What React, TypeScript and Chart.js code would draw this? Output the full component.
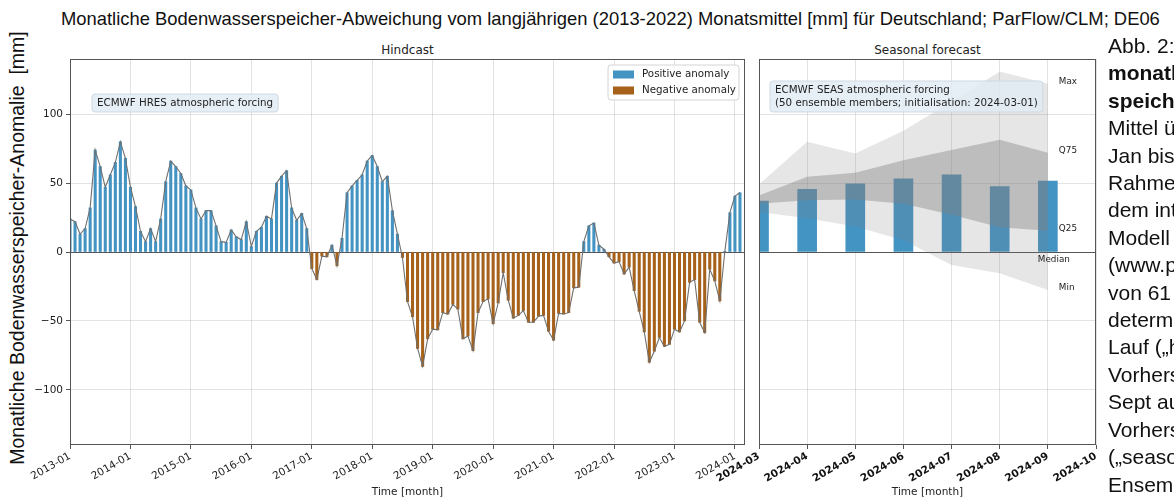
import React, { useEffect, useRef } from 'react';
import { Chart, registerables } from 'chart.js';

Chart.register(...registerables);
Chart.defaults.font.family = "'DejaVu Sans', sans-serif";

// ---- Data ----
const hindcastStart: [number, number] = [2013, 1];
const forecastStart: [number, number] = [2024, 3];

// Monthly soil water storage anomaly [mm], 2013-01 .. 2024-02
const hindcastAnomaly: number[] = [
  24, 22, 13, 17, 32, 74, 62, 47, 56, 65, 80, 68,
  47, 33, 15, 7.5, 17, 7.5, 24, 51, 66, 62, 57, 48,
  45, 32, 24, 30, 30, 19, 7.5, 7, 16, 11, 9, 22,
  4, 15, 18, 26, 24, 50, 55, 59, 32, 23, 28, 17,
  -12, -20, -3, -3.5, 5, -10, 10, 43, 48, 52, 56, 66,
  70, 62, 51, 55, 30, 13, -4, -36, -47, -70, -83, -63,
  -56, -56.5, -44, -45, -38, -41.5, -63, -61, -71.5, -44, -36, -34,
  -52, -37, -15, -35, -48, -46, -42.5, -51, -51, -46.5, -46, -57.5,
  -64, -44.5, -45, -44, -26, -25.5, 7.5, 19, 21, 5, 2, -3.5,
  -8, -7, -16, -11, -28, -43, -58, -80, -72, -62, -68.5, -67,
  -56, -58, -50, -22, -20, -51, -58.5, -12.5, -21, -35.5, 0.5, 28.5,
  40.5, 43,
];

// Seasonal forecast 2024-03 .. 2024-09
const forecastMedian: number[] = [37, 45.5, 49.5, 53, 56, 47.5, 51.5];
const forecastMax: number[] = [49, 80, 71.5, 88, 109, 131, 122];
const forecastQ75: number[] = [41, 54.5, 57.5, 66.5, 74, 81.5, 72];
const forecastQ25: number[] = [35, 37.5, 38, 35, 27, 18, 15.5];
const forecastMin: number[] = [29, 24.5, 18.5, 8.5, -9.5, -15.5, -27.5];

const yTicks: number[] = [-100, -50, 0, 50, 100];
const yLimit = 140;

const sideText: { text: string; bold?: boolean }[] = [
  { text: 'Abb. 2:' },
  { text: 'monatl', bold: true },
  { text: 'speich', bold: true },
  { text: 'Mittel ü' },
  { text: 'Jan bis' },
  { text: 'Rahme' },
  { text: 'dem int' },
  { text: 'Modell' },
  { text: '(www.p' },
  { text: 'von 61' },
  { text: 'determ' },
  { text: 'Lauf („h' },
  { text: 'Vorhers' },
  { text: 'Sept au' },
  { text: 'Vorhers' },
  { text: '(„seaso' },
  { text: 'Ensem' },
];

const POS = '#4393c3';
const NEG = '#a6611a';
const GRID = 'rgba(0,0,0,0.11)';
const AXIS = '#555';

function monthLabel(start: [number, number], i: number): string {
  const t = start[0] * 12 + (start[1] - 1) + i;
  const y = Math.floor(t / 12);
  const m = (t % 12) + 1;
  return `${y}-${String(m).padStart(2, '0')}`;
}

function fmtY(v: number): string {
  return v < 0 ? '\u2212' + Math.abs(v) : String(v);
}

function rrect(ctx: CanvasRenderingContext2D, x: number, y: number, w: number, h: number, r: number) {
  ctx.beginPath();
  ctx.moveTo(x + r, y);
  ctx.lineTo(x + w - r, y);
  ctx.quadraticCurveTo(x + w, y, x + w, y + r);
  ctx.lineTo(x + w, y + h - r);
  ctx.quadraticCurveTo(x + w, y + h, x + w - r, y + h);
  ctx.lineTo(x + r, y + h);
  ctx.quadraticCurveTo(x, y + h, x, y + h - r);
  ctx.lineTo(x, y + r);
  ctx.quadraticCurveTo(x, y, x + r, y);
  ctx.closePath();
}

const framePlugin = {
  id: 'frame',
  afterDraw(chart: any) {
    const { ctx, chartArea: a } = chart;
    ctx.save();
    ctx.strokeStyle = AXIS;
    ctx.lineWidth = 1;
    const l = Math.round(a.left) + 0.5;
    const t = Math.round(a.top) + 0.5;
    const r = Math.round(a.right) - 0.5;
    const b = Math.round(a.bottom) - 0.5;
    ctx.strokeRect(l, t, r - l, b - t);
    ctx.restore();
  },
};

function drawNoteBox(ctx: CanvasRenderingContext2D, x: number, y: number, lines: string[]) {
  ctx.save();
  ctx.font = "10.3px 'DejaVu Sans', sans-serif";
  const w = Math.max(...lines.map((s) => ctx.measureText(s).width)) + 10;
  const lh = 13;
  const h = lines.length * lh + 5;
  rrect(ctx, x, y, w, h, 3);
  ctx.fillStyle = 'rgba(226,235,244,0.85)';
  ctx.fill();
  ctx.strokeStyle = '#cfd9e3';
  ctx.lineWidth = 1;
  ctx.stroke();
  ctx.fillStyle = '#222';
  ctx.textBaseline = 'middle';
  ctx.textAlign = 'left';
  lines.forEach((s, i) => ctx.fillText(s, x + 5, y + 3 + lh / 2 + i * lh));
  ctx.restore();
}

const hindcastDecor = {
  id: 'hindcastDecor',
  afterDraw(chart: any) {
    const { ctx, chartArea: a } = chart;
    drawNoteBox(ctx, a.left + 22, a.top + 35, ['ECMWF HRES atmospheric forcing']);
    // legend
    ctx.save();
    const bx = a.right - 137, by = a.top + 6, bw = 131, bh = 35;
    rrect(ctx, bx, by, bw, bh, 3);
    ctx.fillStyle = 'rgba(255,255,255,0.85)';
    ctx.fill();
    ctx.strokeStyle = '#d4d4d4';
    ctx.stroke();
    const items = [
      { label: 'Positive anomaly', color: POS },
      { label: 'Negative anomaly', color: NEG },
    ];
    ctx.font = "10.3px 'DejaVu Sans', sans-serif";
    ctx.textBaseline = 'middle';
    items.forEach((it, i) => {
      const cy = by + 9.5 + i * 16;
      ctx.fillStyle = it.color;
      ctx.fillRect(bx + 5, cy - 4, 21, 8);
      ctx.fillStyle = '#222';
      ctx.fillText(it.label, bx + 34, cy);
    });
    ctx.restore();
  },
};

const forecastDecor = {
  id: 'forecastDecor',
  afterDraw(chart: any) {
    const { ctx, chartArea: a, scales } = chart;
    drawNoteBox(ctx, a.left + 11, a.top + 22, [
      'ECMWF SEAS atmospheric forcing',
      '(50 ensemble members; initialisation: 2024-03-01)',
    ]);
    const xs = scales.x, ys = scales.y;
    const last = forecastMax.length - 1;
    const xl = xs.getPixelForValue(last) + 11;
    ctx.save();
    ctx.font = "8.8px 'DejaVu Sans', sans-serif";
    ctx.fillStyle = '#222';
    ctx.textBaseline = 'middle';
    ctx.textAlign = 'left';
    const marks: [string, number][] = [
      ['Max', forecastMax[last]],
      ['Q75', forecastQ75[last]],
      ['Q25', forecastQ25[last]],
      ['Min', forecastMin[last]],
    ];
    marks.forEach(([s, v]) => ctx.fillText(s, xl, ys.getPixelForValue(v) - 2));
    ctx.textAlign = 'center';
    ctx.fillText('Median', xs.getPixelForValue(last) + 6, ys.getPixelForValue(0) + 8);
    ctx.restore();
  },
};

const yGridColor = (c: any) => (c.tick && c.tick.value === 0 ? AXIS : GRID);

export default function App() {
  const leftRef = useRef<HTMLCanvasElement>(null);
  const rightRef = useRef<HTMLCanvasElement>(null);

  useEffect(() => {
    const left = new Chart(leftRef.current as HTMLCanvasElement, {
      type: 'bar',
      data: {
        datasets: [
          {
            type: 'line',
            data: hindcastAnomaly.map((v, i) => ({ x: i, y: v })),
            borderColor: '#6f6f6f',
            borderWidth: 1.1,
            pointRadius: 0,
            order: 0,
          } as any,
          {
            type: 'bar',
            data: hindcastAnomaly.map((v, i) => ({ x: i, y: v })),
            backgroundColor: hindcastAnomaly.map((v) => (v >= 0 ? POS : NEG)),
            barThickness: 2.4,
            order: 1,
          } as any,
        ],
      },
      options: {
        animation: false,
        responsive: false,
        events: [],
        layout: { padding: { top: 59, right: 15, bottom: 0, left: 0 } },
        plugins: { legend: { display: false }, tooltip: { enabled: false } },
        scales: {
          x: {
            type: 'linear',
            min: 0,
            max: hindcastAnomaly.length,
            offset: false,
            grid: { color: GRID, tickColor: AXIS, tickLength: 4, offset: false },
            border: { display: false },
            ticks: {
              stepSize: 12,
              includeBounds: false,
              autoSkip: false,
              maxRotation: 30,
              minRotation: 30,
              padding: 1,
              color: '#222',
              font: { size: 10.5 },
              callback: (v: any) => monthLabel(hindcastStart, Number(v)),
            },
            title: { display: true, text: 'Time [month]', padding: 0, color: '#222', font: { size: 10.5 } },
            afterFit: (s: any) => { s.height = 54; },
          },
          y: {
            min: -yLimit,
            max: yLimit,
            grid: { color: yGridColor, tickColor: AXIS, tickLength: 4 },
            border: { display: false },
            afterBuildTicks: (s: any) => { s.ticks = yTicks.map((v) => ({ value: v })); },
            ticks: { color: '#222', padding: 3, font: { size: 10.5 }, callback: (v: any) => fmtY(Number(v)) },
            afterFit: (s: any) => { s.width = 70; },
          },
        },
      } as any,
      plugins: [framePlugin, hindcastDecor],
    });

    const pts = (arr: number[]) => arr.map((v, i) => ({ x: i, y: v }));
    const right = new Chart(rightRef.current as HTMLCanvasElement, {
      type: 'bar',
      data: {
        datasets: [
          {
            type: 'bar',
            data: pts(forecastMedian),
            backgroundColor: POS,
            barThickness: 19,
            order: 10,
          } as any,
          {
            type: 'line',
            data: pts(forecastMax),
            borderColor: 'rgba(0,0,0,0)',
            borderWidth: 1,
            pointRadius: 0,
            backgroundColor: 'rgba(128,128,128,0.2)',
            fill: 4,
            order: 2,
          } as any,
          {
            type: 'line',
            data: pts(forecastQ75),
            borderColor: 'rgba(0,0,0,0)',
            borderWidth: 1,
            pointRadius: 0,
            backgroundColor: 'rgba(128,128,128,0.4)',
            fill: 3,
            order: 1,
          } as any,
          {
            type: 'line',
            data: pts(forecastQ25),
            borderColor: 'rgba(0,0,0,0)',
            borderWidth: 1,
            pointRadius: 0,
            fill: false,
            order: 1,
          } as any,
          {
            type: 'line',
            data: pts(forecastMin),
            borderColor: 'rgba(0,0,0,0)',
            borderWidth: 1,
            pointRadius: 0,
            fill: false,
            order: 2,
          } as any,
        ],
      },
      options: {
        animation: false,
        responsive: false,
        events: [],
        layout: { padding: { top: 59, right: 9, bottom: 0, left: 59 } },
        plugins: { legend: { display: false }, tooltip: { enabled: false } },
        scales: {
          x: {
            type: 'linear',
            min: 0,
            max: forecastMedian.length,
            offset: false,
            grid: { color: GRID, tickColor: AXIS, tickLength: 4, offset: false },
            border: { display: false },
            ticks: {
              stepSize: 1,
              includeBounds: false,
              autoSkip: false,
              maxRotation: 30,
              minRotation: 30,
              padding: 1,
              color: '#111',
              font: { size: 10.5, weight: 'bold' },
              callback: (v: any) => monthLabel(forecastStart, Number(v)),
            },
            title: { display: true, text: 'Time [month]', padding: 0, color: '#222', font: { size: 10.5 } },
            afterFit: (s: any) => { s.height = 54; },
          },
          y: {
            min: -yLimit,
            max: yLimit,
            grid: { color: yGridColor, drawTicks: false },
            border: { display: false },
            afterBuildTicks: (s: any) => { s.ticks = yTicks.map((v) => ({ value: v })); },
            ticks: { display: false },
            afterFit: (s: any) => { s.width = 0; },
          },
        },
      } as any,
      plugins: [framePlugin, forecastDecor],
    });

    return () => {
      left.destroy();
      right.destroy();
    };
  }, []);

  return (
    <div
      style={{
        position: 'fixed',
        left: 0,
        top: 0,
        width: 1174,
        height: 499,
        overflow: 'hidden',
        background: '#fff',
      }}
    >
      <div
        style={{
          position: 'absolute',
          left: 61,
          top: 8,
          fontFamily: "'Liberation Sans', Arial, sans-serif",
          fontSize: 18.4,
          lineHeight: '21px',
          whiteSpace: 'nowrap',
          color: '#111',
        }}
      >
        Monatliche Bodenwasserspeicher-Abweichung vom langjährigen (2013-2022) Monatsmittel [mm] für Deutschland; ParFlow/CLM; DE06
      </div>
      <div
        style={{
          position: 'absolute',
          left: 17 - 240,
          top: 248 - 11,
          width: 480,
          height: 22,
          lineHeight: '22px',
          textAlign: 'center',
          transform: 'rotate(-90deg)',
          fontFamily: "'Liberation Sans', Arial, sans-serif",
          fontSize: 19.5,
          whiteSpace: 'pre',
          color: '#111',
        }}
      >
        {'Monatliche Bodenwasserspeicher-Anomalie  [mm]'}
      </div>
      <div
        style={{
          position: 'absolute',
          left: 307.5,
          width: 200,
          top: 43,
          lineHeight: '14px',
          textAlign: 'center',
          fontFamily: "'DejaVu Sans', sans-serif",
          fontSize: 12,
          color: '#222',
        }}
      >
        Hindcast
      </div>
      <div
        style={{
          position: 'absolute',
          left: 827.5,
          width: 200,
          top: 43,
          lineHeight: '14px',
          textAlign: 'center',
          fontFamily: "'DejaVu Sans', sans-serif",
          fontSize: 12,
          color: '#222',
        }}
      >
        Seasonal forecast
      </div>
      <canvas ref={leftRef} width={760} height={499} style={{ position: 'absolute', left: 0, top: 0 }} />
      <canvas ref={rightRef} width={405} height={499} style={{ position: 'absolute', left: 700, top: 0 }} />
      <div
        style={{
          position: 'absolute',
          left: 1108,
          top: 32,
          width: 66,
          overflow: 'hidden',
          fontFamily: "'Liberation Sans', Arial, sans-serif",
          fontSize: 21,
          lineHeight: '27.4px',
          color: '#111',
        }}
      >
        {sideText.map((s, i) => (
          <div key={i} style={{ whiteSpace: 'nowrap', fontWeight: s.bold ? 'bold' : 'normal' }}>
            {s.text}
          </div>
        ))}
      </div>
    </div>
  );
}
